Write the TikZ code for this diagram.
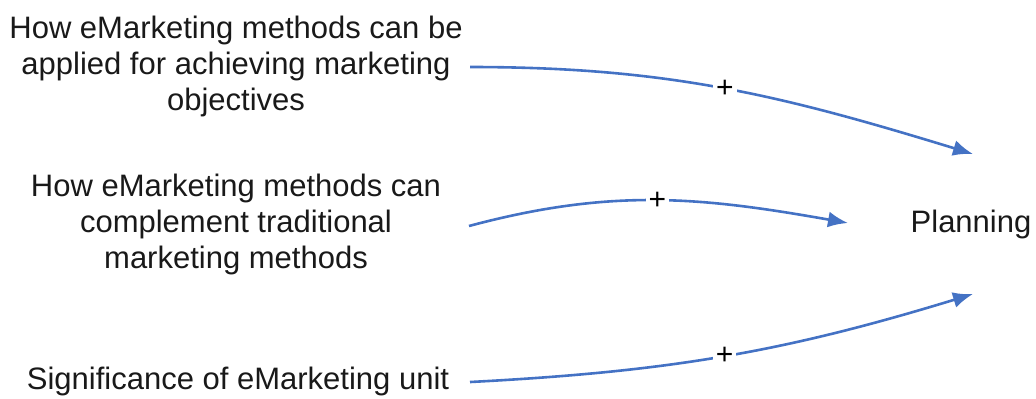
\documentclass[tikz,border=0pt]{standalone}
\usepackage{fontspec}
\setmainfont{Liberation Sans}
\usetikzlibrary{arrows.meta}
\definecolor{linkblue}{RGB}{68,114,196}

\begin{document}
\begin{tikzpicture}[x=0.5pt,y=-0.5pt,
    factor/.style={align=center,font=\fontsize{15.5}{18}\selectfont,inner sep=0pt,text=black!90},
    link/.style={->,>={Latex[length=10pt,width=8pt]},line width=1.3pt,linkblue,draw},
    sign/.style={fill=white,text=black,inner sep=1.5pt,font=\fontsize{15}{15}\selectfont}]

    \useasboundingbox (0,0) rectangle (1036,398);
    \node[factor] (apply) at (236,66) {How eMarketing methods can be\\applied for achieving marketing\\objectives};
    \node[factor] (complement) at (236,224) {How eMarketing methods can\\complement traditional\\marketing methods};
    \node[factor] (unit) at (238,381) {Significance of eMarketing unit};
    \node[factor] (plan) at (971,224) {Planning};

    \coordinate (a1) at (470,67);
    \coordinate (a2) at (469,226);
    \coordinate (a3) at (470,382);
    \coordinate (t1) at (973,154);
    \coordinate (t2) at (848,223);
    \coordinate (t3) at (973,294);

    \path[link] (a1) to[out=0,in=163] node[sign,pos=0.5] {+} (t1);
    \path[link] (a2) to[out=15,in=170] node[sign,pos=0.5] {+} (t2);
    \path[link] (a3) to[out=3,in=197] node[sign,pos=0.5] {+} (t3);

  \end{tikzpicture}
\end{document}
